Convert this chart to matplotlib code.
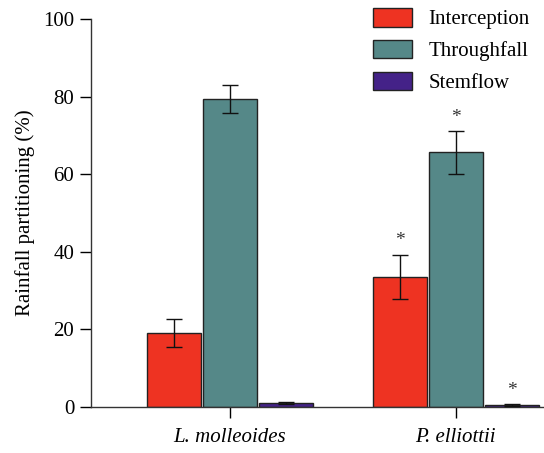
import matplotlib.pyplot as plt
import numpy as np

plt.rcParams['font.family'] = ['Liberation Serif', 'DejaVu Serif']

species = ['L. molleoides', 'P. elliottii']
components = ['Interception', 'Throughfall', 'Stemflow']
means = {
    'Interception': [19.1, 33.6],
    'Throughfall': [79.4, 65.6],
    'Stemflow': [1.0, 0.5],
}
errors = {
    'Interception': [3.6, 5.7],
    'Throughfall': [3.5, 5.5],
    'Stemflow': [0.3, 0.2],
}
# significance marks per component and species
signif = {
    'Interception': [False, True],
    'Throughfall': [False, True],
    'Stemflow': [False, True],
}
colors = ['#ee3322', '#558888', '#442288']

fig = plt.figure(figsize=(5.44, 4.53), dpi=100)
ax = fig.add_axes([0.167, 0.1015, 0.833, 0.8565])

x = np.arange(len(species))
width = 0.239
offsets = [-0.248, 0.0, 0.248]

for comp, off, col in zip(components, offsets, colors):
    ax.bar(x + off, means[comp], width, color=col, edgecolor='#222222',
           linewidth=1.0, label=comp, zorder=2)
    ax.errorbar(x + off, means[comp], yerr=errors[comp], fmt='none',
                ecolor='#111111', elinewidth=1.0, capsize=6, capthick=1.0, zorder=3)
    for xi, m, e, s in zip(x + off, means[comp], errors[comp], signif[comp]):
        if s:
            ax.text(xi, m + e + 1.3, '*', ha='center', va='bottom', fontsize=14,
                    color='#333333')

ax.set_xlim(-0.615, 1.39)
ax.set_ylim(0, 100)
ax.set_yticks([0, 20, 40, 60, 80, 100])
ax.set_xticks(x)
ax.set_xticklabels(species, fontstyle='italic', fontsize=15)
ax.tick_params(axis='y', labelsize=15, length=8, width=1, direction='out', pad=4)
ax.tick_params(axis='x', length=8, width=1, direction='out', pad=7)
ax.set_ylabel('Rainfall partitioning (%)', fontsize=15, labelpad=6)

for side in ['top', 'right']:
    ax.spines[side].set_visible(False)
for side in ['left', 'bottom']:
    ax.spines[side].set_linewidth(1.0)
    ax.spines[side].set_color('#333333')

ax.legend(loc='upper right', bbox_to_anchor=(0.987, 1.05), frameon=False, fontsize=15,
          handlelength=1.87, handleheight=1.0, labelspacing=0.5, handletextpad=0.8,
          borderaxespad=0.0)

fig.savefig('out.png', dpi=100)
